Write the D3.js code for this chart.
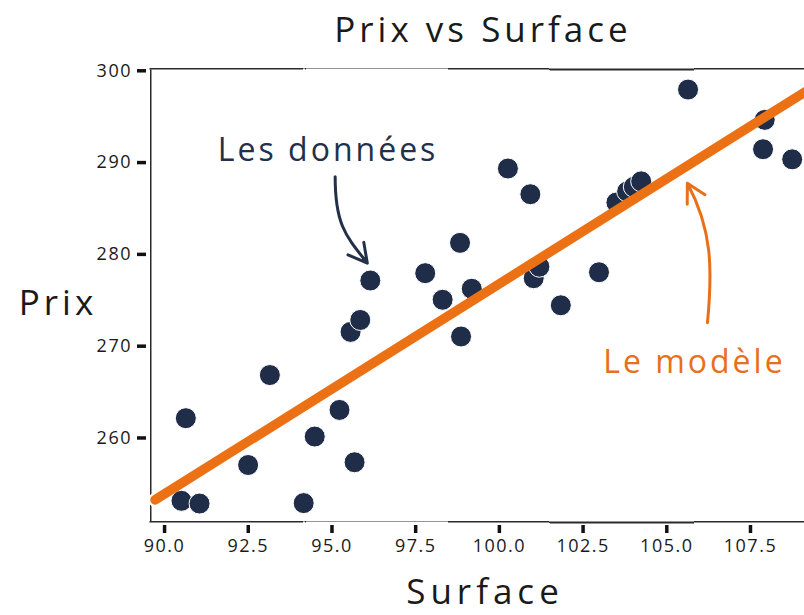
<!DOCTYPE html>
<html>
<head>
<meta charset="utf-8">
<script src="https://cdn.jsdelivr.net/npm/d3@7"></script>
<style>
  body { margin: 0; background: #fff; }
  svg { display: block; font-family: "Open Sans", sans-serif; }
</style>
</head>
<body>
<svg id="chart" width="804" height="615"></svg>
<script>
//
// Data
//
var surface = [90.52, 91.06, 90.65, 92.51, 93.16, 94.17, 94.50, 95.24, 95.69, 95.57,
  95.86, 96.16, 97.80, 98.32, 98.84, 98.87, 99.19, 100.27, 100.94, 101.04,
  101.21, 101.85, 102.99, 103.51, 103.83, 104.03, 104.25, 105.65, 107.94, 107.89, 108.76]
var prix = [253.1, 252.8, 262.1, 257.0, 266.8, 252.85, 260.1, 263.0, 257.3, 271.5,
  272.8, 277.1, 277.9, 275.0, 281.2, 271.0, 276.2, 289.3, 286.5, 277.35,
  278.6, 274.4, 278.0, 285.6, 286.8, 287.3, 287.9, 297.9, 294.6, 291.4, 290.3]

// model line end points
var modelX = [89.73, 109.3]
var modelY = [253.2, 298.0]

var xTicks = [90, 92.5, 95, 97.5, 100, 102.5, 105, 107.5]
var yTicks = [260, 270, 280, 290, 300]

// annotations, in data units
var notes = [
  { text: 'Les données', color: '#22304a', at: [94.9, 290.1],
    arrow: [[95.11, 288.4], [95.11, 283.2], [95.42, 282.0], [96.07, 279.0]] },
  { text: 'Le modèle', color: '#e8701a', at: [105.84, 267.0],
    arrow: [[106.23, 272.5], [106.38, 278.3], [106.38, 282.6], [105.63, 287.7]] }
]

//
// Setup
//
var colorDots = '#1f2d48'
var colorModel = '#ec7014'
var colorInk = '#1a1a1a'

var svg = d3.select('#chart')
var plotLeft = 150, plotTop = 68, plotBottom = 521, plotRight = 827

var x = d3.scaleLinear().domain([89.58, 109.8]).range([plotLeft, plotRight])
var y = d3.scaleLinear().domain([250.9, 300.25]).range([plotBottom, plotTop])

// hand-drawn wobble for the spines (smooth, low frequency)
var defs = svg.append('defs')
var wob = defs.append('filter').attr('id', 'wobble')
  .attr('filterUnits', 'userSpaceOnUse')
  .attr('x', 0).attr('y', 0).attr('width', 900).attr('height', 700)
wob.append('feTurbulence').attr('type', 'fractalNoise')
  .attr('baseFrequency', 0.004).attr('numOctaves', 1).attr('seed', 5).attr('result', 'n')
wob.append('feDisplacementMap').attr('in', 'SourceGraphic').attr('in2', 'n')
  .attr('scale', 4).attr('xChannelSelector', 'R').attr('yChannelSelector', 'G')

//
// Axes
//
var gx = svg.append('g')
  .attr('transform', 'translate(0,' + plotBottom + ')')
  .call(d3.axisBottom(x).tickValues(xTicks).tickFormat(d3.format('.1f'))
    .tickSize(12).tickSizeOuter(0).tickPadding(6))
var gy = svg.append('g')
  .attr('transform', 'translate(' + plotLeft + ',0)')
  .call(d3.axisLeft(y).tickValues(yTicks).tickFormat(d3.format('d'))
    .tickSize(13).tickSizeOuter(0).tickPadding(5))
var gt = svg.append('g')
  .attr('transform', 'translate(0,' + plotTop + ')')
  .call(d3.axisTop(x).tickValues([]).tickSizeOuter(0))

svg.selectAll('g').attr('font-family', null)
svg.selectAll('.domain')
  .attr('stroke', '#2a2a2a').attr('stroke-width', 2).attr('filter', 'url(#wobble)')
// short thick tick marks set a little away from the spine
gx.selectAll('.tick line').attr('y1', 4)
gy.selectAll('.tick line').attr('x1', -4)
svg.selectAll('.tick line')
  .attr('stroke', '#111').attr('stroke-width', 3.5)
svg.selectAll('.tick text')
  .attr('fill', colorInk).style('font-size', '18px').style('letter-spacing', '1.5px')

//
// Marks
//
svg.append('line')
  .attr('x1', x(modelX[0])).attr('y1', y(modelY[0]))
  .attr('x2', x(modelX[1])).attr('y2', y(modelY[1]))
  .attr('stroke', '#fff').attr('stroke-width', 14).attr('stroke-linecap', 'round')

svg.append('g').selectAll('circle')
  .data(surface)
  .join('circle')
  .attr('cx', function (d) { return x(d) })
  .attr('cy', function (d, i) { return y(prix[i]) })
  .attr('r', 10.5)
  .attr('fill', colorDots)
  .attr('stroke', '#fff').attr('stroke-width', 1)

svg.append('line')
  .attr('x1', x(modelX[0])).attr('y1', y(modelY[0]))
  .attr('x2', x(modelX[1])).attr('y2', y(modelY[1]))
  .attr('stroke', colorModel).attr('stroke-width', 9.5).attr('stroke-linecap', 'round')

//
// Annotations
//
notes.forEach(function (n) {
  var p = n.arrow.map(function (d) { return [x(d[0]), y(d[1])] })
  var path = d3.path()
  path.moveTo(p[0][0], p[0][1])
  path.bezierCurveTo(p[1][0], p[1][1], p[2][0], p[2][1], p[3][0], p[3][1])
  var a = Math.atan2(p[3][1] - p[2][1], p[3][0] - p[2][0])
  var len = 21, spread = 0.5
  path.moveTo(p[3][0] - len * Math.cos(a - spread), p[3][1] - len * Math.sin(a - spread))
  path.lineTo(p[3][0], p[3][1])
  path.lineTo(p[3][0] - len * Math.cos(a + spread), p[3][1] - len * Math.sin(a + spread))
  svg.append('path')
    .attr('d', path.toString())
    .attr('fill', 'none').attr('stroke', n.color).attr('stroke-width', 3)
    .attr('stroke-linecap', 'round').attr('stroke-linejoin', 'round')

  svg.append('text')
    .attr('x', x(n.at[0])).attr('y', y(n.at[1]))
    .attr('text-anchor', 'middle')
    .attr('fill', n.color)
    .style('font-size', '32px').style('letter-spacing', '3px')
    .text(n.text)
})

//
// Titles
//
svg.append('text')
  .attr('x', 483).attr('y', 42).attr('text-anchor', 'middle')
  .attr('fill', colorInk).style('font-size', '35px').style('letter-spacing', '4px')
  .text('Prix vs Surface')
svg.append('text')
  .attr('x', 485).attr('y', 604).attr('text-anchor', 'middle')
  .attr('fill', colorInk).style('font-size', '35px').style('letter-spacing', '5px')
  .text('Surface')
svg.append('text')
  .attr('x', 58).attr('y', 315).attr('text-anchor', 'middle')
  .attr('fill', colorInk).style('font-size', '35px').style('letter-spacing', '4px')
  .text('Prix')
</script>
</body>
</html>
